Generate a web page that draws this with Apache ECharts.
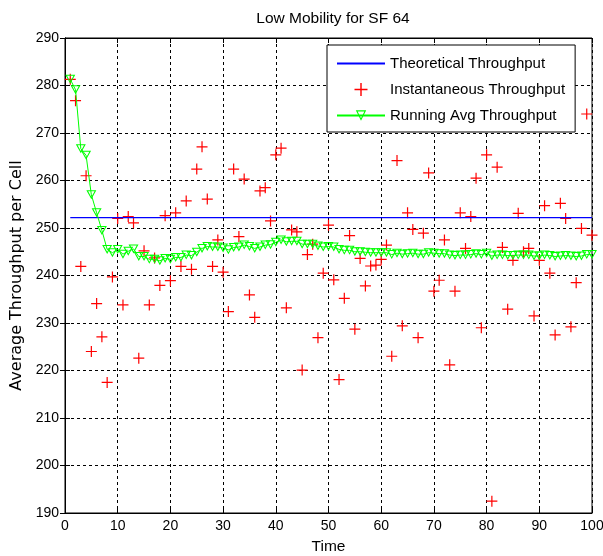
<!DOCTYPE html>
<html>
<head>
<meta charset="utf-8">
<script src="https://cdn.jsdelivr.net/npm/echarts@6/dist/echarts.min.js"></script>
<style>
  html, body { margin: 0; padding: 0; background: #fff; }
  #chart { width: 603px; height: 556px; }
</style>
</head>
<body>
<div id="chart"></div>
<script>
// values, one per time step 1..100
var instThroughput = [
  281.3, 276.8, 241.9, 261.0, 224.0, 234.1, 227.1, 217.5, 239.7, 252.0,
  233.8, 252.4, 251.1, 222.6, 245.2, 233.8, 243.7, 237.9, 252.6, 238.9,
  253.2, 241.9, 255.7, 241.3, 262.4, 267.1, 256.1, 241.9, 247.5, 240.7,
  232.4, 262.4, 248.2, 260.3, 235.9, 231.2, 257.8, 258.5, 251.5, 265.4,
  266.8, 233.2, 249.6, 249.2, 220.1, 244.4, 246.6, 226.9, 240.5, 250.6,
  239.1, 218.1, 235.2, 248.4, 228.7, 243.6, 237.8, 242.0, 242.2, 243.4,
  246.4, 223.0, 264.2, 229.4, 253.2, 249.7, 226.9, 248.9, 261.6, 236.7,
  239.0, 247.5, 221.2, 236.7, 253.2, 245.7, 252.4, 260.5, 229.0, 265.4,
  192.5, 262.8, 245.9, 232.9, 243.2, 253.1, 245.0, 245.7, 231.5, 243.2,
  254.7, 240.5, 227.5, 255.2, 252.0, 229.2, 238.5, 249.9, 274.0, 248.5
];
var runningAvg = [
  281.3, 279.1, 266.7, 265.3, 257.0, 253.2, 249.5, 245.5, 244.8, 245.5,
  244.5, 245.1, 245.6, 244.0, 244.0, 243.4, 243.4, 243.1, 243.6, 243.4,
  243.8, 243.8, 244.3, 244.2, 244.9, 245.7, 246.1, 246.0, 246.0, 245.8,
  245.4, 245.9, 246.0, 246.4, 246.1, 245.7, 246.0, 246.4, 246.5, 247.0,
  247.5, 247.1, 247.2, 247.2, 246.6, 246.6, 246.6, 246.2, 246.0, 246.1,
  246.0, 245.5, 245.3, 245.3, 245.0, 245.0, 244.9, 244.8, 244.8, 244.8,
  244.8, 244.4, 244.7, 244.5, 244.6, 244.7, 244.5, 244.5, 244.8, 244.7,
  244.6, 244.6, 244.3, 244.2, 244.3, 244.3, 244.4, 244.6, 244.4, 244.7,
  244.1, 244.3, 244.3, 244.2, 244.2, 244.3, 244.3, 244.3, 244.1, 244.1,
  244.3, 244.2, 244.0, 244.1, 244.2, 244.1, 244.0, 244.1, 244.4, 244.4
];
var theoretical = 252.2;
var times = [];
for (var i = 1; i <= instThroughput.length; i++) times.push(i);

var plusIcon = 'path://M0,4.45H10V5.55H0Z M4.45,0H5.55V10H4.45Z';
var triIcon = 'path://M0,0L10,0L5,9Z M1.8,1L5,6.8L8.2,1Z';

function pairs(vals) {
  var out = [];
  for (var i = 0; i < times.length; i++) out.push([times[i], vals[i]]);
  return out;
}
var theoData = [];
for (var j = 0; j < times.length; j++) theoData.push([times[j], theoretical]);

var font = 'Liberation Sans';

var myChart = echarts.init(document.getElementById('chart'));
var option = {
  animation: false,
  backgroundColor: '#fff',
  title: {
    text: 'Low Mobility for SF 64',
    left: 328, top: 6, textAlign: 'center',
    textStyle: { color: '#000', fontFamily: font, fontSize: 15.5, fontWeight: 'normal' }
  },
  grid: {
    left: 65, right: 11, top: 38, bottom: 43,
    outerBoundsMode: 'none',
    show: true, borderColor: '#000', borderWidth: 1
  },
  legend: {
    left: 327, top: 45,
    orient: 'vertical',
    backgroundColor: '#fff',
    borderColor: '#000', borderWidth: 1,
    padding: [11, 10, 9, 9],
    itemWidth: 48, itemHeight: 13, itemGap: 11,
    textStyle: { color: '#000', fontFamily: font, fontSize: 15 },
    data: [
      { name: 'Theoretical Throughput', itemStyle: { opacity: 0 } },
      'Instantaneous Throughput',
      'Running Avg Throughput'
    ]
  },
  xAxis: [{
    type: 'value', min: 0, max: 100, interval: 10,
    name: 'Time', nameLocation: 'middle', nameGap: 26,
    nameTextStyle: { color: '#000', fontFamily: font, fontSize: 15.5 },
    axisLine: { lineStyle: { color: '#000' } },
    axisTick: { inside: true, length: 5, lineStyle: { color: '#000' } },
    axisLabel: { color: '#000', fontFamily: font, fontSize: 14, margin: 6 },
    splitLine: { lineStyle: { color: '#000', type: [3, 3] } }
  }, {
    type: 'value', min: 0, max: 100, interval: 10, position: 'top',
    axisLine: { lineStyle: { color: '#000' } },
    axisTick: { inside: true, length: 5, lineStyle: { color: '#000' } },
    axisLabel: { show: false }, splitLine: { show: false }
  }],
  yAxis: [{
    type: 'value', min: 190, max: 290, interval: 10,
    name: 'Average Throughput per Cell', nameLocation: 'middle', nameGap: 38,
    nameTextStyle: { color: '#000', fontFamily: 'DejaVu Sans', fontSize: 16 },
    axisLine: { lineStyle: { color: '#000' } },
    axisTick: { inside: true, length: 5, lineStyle: { color: '#000' } },
    axisLabel: { color: '#000', fontFamily: font, fontSize: 14, margin: 6 },
    splitLine: { lineStyle: { color: '#000', type: [3, 3] } }
  }, {
    type: 'value', min: 190, max: 290, interval: 10, position: 'right',
    axisLine: { lineStyle: { color: '#000' } },
    axisTick: { inside: true, length: 5, lineStyle: { color: '#000' } },
    axisLabel: { show: false }, splitLine: { show: false }
  }],
  series: [{
    name: 'Theoretical Throughput',
    type: 'line',
    data: theoData,
    symbol: 'circle',
    showSymbol: false,
    lineStyle: { color: '#0000ff', width: 1.3 },
    itemStyle: { color: '#0000ff' }
  }, {
    name: 'Instantaneous Throughput',
    type: 'scatter',
    data: pairs(instThroughput),
    symbol: plusIcon,
    symbolSize: 11,
    itemStyle: { color: '#ff0000', opacity: 1 }
  }, {
    name: 'Running Avg Throughput',
    type: 'line',
    data: pairs(runningAvg),
    symbol: triIcon,
    symbolSize: [10, 9],
    showAllSymbol: true,
    lineStyle: { color: '#00ff00', width: 1 },
    itemStyle: { color: '#00ff00' }
  }]
};
myChart.setOption(option);
</script>
</body>
</html>
